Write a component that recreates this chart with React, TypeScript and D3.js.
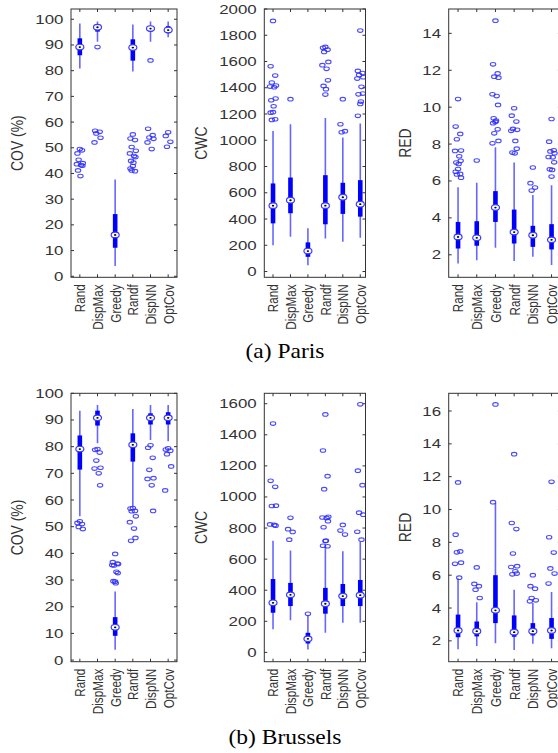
import React from "react";
import * as d3 from "d3";

// box order: [whisker low, q1, median, q3, whisker high]
const methods = ["Rand", "DispMax", "Greedy", "Randf", "DispNN", "OptCov"];

const parisCov = [
  [80.8, 86, 89.2, 92.6, 98.4],
  [91.3, 95.2, 96.9, 97.4, 99.1],
  [4.0, 11.1, 16.1, 24.2, 37.7],
  [79.7, 83.9, 89.0, 92.2, 98.0],
  [91.3, 95.3, 96.4, 97.2, 99.1],
  [93.0, 94.6, 95.8, 97.3, 99.1],
];
const parisCovOut = [
  [49.5, 47.8, 49.0, 45.3, 44.0, 43.6, 43.3, 43.0, 41.2, 39.0],
  [89.2, 56.6, 56.2, 55.6, 53.9, 52.1],
  [],
  [55.2, 53.6, 53.0, 50.3, 48.8, 47.8, 46.8, 46.4, 44.9, 44.2, 42.9, 41.9, 40.9, 41.2],
  [84.0, 57.4, 54.9, 54.0, 53.5, 52.1, 49.5],
  [56.0, 54.6, 52.3, 50.4],
];

const parisCwc = [
  [201, 367, 502, 671, 1071],
  [265, 444, 543, 716, 1122],
  [48, 112, 156, 222, 329],
  [252, 360, 502, 734, 1170],
  [227, 439, 566, 676, 1021],
  [258, 418, 513, 696, 1127],
];
const parisCwcOut = [
  [1909, 1564, 1493, 1440, 1417, 1409, 1404, 1318, 1305, 1259, 1214, 1210, 1160, 1155],
  [1313],
  [],
  [1711, 1704, 1690, 1673, 1597, 1572, 1544, 1457, 1414, 1389, 1348],
  [1313, 1122, 1069, 1061],
  [1836, 1528, 1512, 1498, 1480, 1470, 1407, 1356, 1350, 1295, 1277, 1186],
];

const parisRed = [
  [1.53, 2.34, 2.97, 3.78, 5.66],
  [1.71, 2.49, 2.92, 3.82, 5.91],
  [2.38, 3.78, 4.56, 5.45, 7.83],
  [1.66, 2.61, 3.23, 4.45, 7.0],
  [1.89, 2.43, 3.06, 3.57, 5.24],
  [1.44, 2.29, 2.81, 3.66, 5.77],
];
const parisRedOut = [
  [10.44, 8.95, 8.55, 8.26, 7.65, 7.63, 7.34, 7.09, 7.0, 6.92, 6.65, 6.5, 6.38, 6.35, 6.18],
  [7.11],
  [14.69, 12.32, 11.83, 11.65, 11.6, 10.7, 10.6, 10.12, 9.4, 9.27, 9.2, 9.13, 8.8, 8.58, 8.17, 8.04],
  [9.94, 9.54, 9.22, 8.82, 8.77, 8.72, 8.17, 7.75, 7.54, 7.5],
  [6.73, 5.88, 5.64, 5.48],
  [9.36, 8.13, 7.66, 7.6, 7.5, 7.3, 7.28, 7.01, 6.63, 6.6, 6.24],
];

const brusselsCov = [
  [53.9, 71.4, 79.1, 84.2, 93.5],
  [81.3, 87.9, 90.8, 93.5, 95.6],
  [3.9, 9.1, 12.3, 16.1, 25.7],
  [57.4, 74.4, 80.7, 85.0, 94.1],
  [82.5, 88.3, 90.8, 92.5, 95.6],
  [82.0, 88.3, 90.8, 92.9, 95.6],
];
const brusselsCovOut = [
  [52.0, 51.4, 51.0, 49.9, 49.1],
  [79.1, 78.8, 77.8, 74.8, 72.1, 71.8, 70.0, 65.5],
  [39.8, 36.7, 36.2, 35.5, 36.0, 35.6, 33.1, 32.6, 29.6, 28.8, 29.4],
  [57.0, 56.8, 55.9, 55.8, 53.9, 51.7, 49.3, 45.8, 44.7],
  [80.5, 79.6, 75.8, 71.3, 68.2, 67.9, 65.5, 55.9],
  [79.4, 78.9, 78.5, 77.2, 72.6, 63.6],
];

const brusselsCwc = [
  [149, 255, 319, 472, 719],
  [206, 298, 370, 447, 656],
  [19, 57, 87, 126, 236],
  [126, 249, 313, 415, 682],
  [191, 298, 362, 440, 650],
  [191, 298, 368, 466, 710],
];
const brusselsCwcOut = [
  [1472, 1104, 1065, 942, 944, 823, 820, 815],
  [866, 793, 775, 725],
  [248],
  [1531, 1299, 1134, 1050, 872, 868, 865, 844, 805, 719, 716, 686, 683],
  [820, 784, 758],
  [1596, 1169, 1076, 899, 886, 776, 725],
];

const brusselsRed = [
  [1.49, 2.22, 2.63, 3.6, 5.8],
  [1.69, 2.27, 2.59, 3.18, 4.35],
  [1.86, 3.08, 3.86, 6.0, 10.4],
  [1.45, 2.25, 2.53, 3.55, 5.12],
  [1.82, 2.33, 2.59, 3.08, 4.31],
  [1.55, 2.12, 2.63, 3.39, 4.98],
];
const brusselsRedOut = [
  [11.65, 8.47, 7.45, 7.39, 6.76, 6.69, 5.85],
  [6.47, 5.47, 5.33, 5.12, 4.61],
  [16.4, 10.45],
  [13.37, 9.18, 8.81, 7.32, 6.55, 6.5, 6.24, 6.1, 6.05],
  [6.0, 5.33, 5.18, 4.61, 4.47, 4.41],
  [11.69, 8.31, 7.38, 6.41, 6.1, 5.49],
];

const covTicks = d3.range(0, 101, 10);
const parisCwcTicks = d3.range(0, 2001, 200);
const brusselsCwcTicks = d3.range(0, 1601, 200);
const parisRedTicks = d3.range(2, 15, 2);
const brusselsRedTicks = d3.range(2, 17, 2);

// small horizontal jitter pattern for outliers (pixels)
const jitter = [0, -2.4, 2.2, -1.2, 3, -3, 1.2, 2.6, -1.8, 0.6];

const BLUE = "#0000ff";
const AXIS = "#333333";
const FONT = "Liberation Sans, Arial, Helvetica, sans-serif";

type PanelProps = {
  label: string;
  stats: number[][];
  outliers: number[][];
  ticks: number[];
  yDomain: [number, number];
  left: number;
  right: number;
  xMax: number;
  top: number;
  bottom: number;
  titleX: number;
};

function BoxPanel(p: PanelProps) {
  const x = d3.scaleLinear().domain([0.5, p.xMax]).range([p.left, p.right]);
  const y = d3.scaleLinear().domain(p.yDomain).range([p.bottom, p.top]);
  const tk = 3;
  const clipId = "clip-" + p.label.replace(/\W/g, "") + Math.round(p.top);
  return (
    <g>
      <defs>
        <clipPath id={clipId}>
          <rect x={p.left} y={p.top} width={p.right - p.left} height={p.bottom - p.top} />
        </clipPath>
      </defs>
      {/* y ticks, left and right */}
      {p.ticks.map((t) => (
        <g key={"yt" + t}>
          <line x1={p.left} x2={p.left + tk} y1={y(t)} y2={y(t)} stroke={AXIS} strokeWidth={1} />
          <line x1={p.right} x2={p.right - tk} y1={y(t)} y2={y(t)} stroke={AXIS} strokeWidth={1} />
          <text
            transform={`translate(${p.left - 7.6},${y(t)}) scale(1.35,1)`}
            textAnchor="end"
            dy="0.36em"
            fontSize={12.5}
            fontFamily={FONT}
            fill={AXIS}
          >
            {t}
          </text>
        </g>
      ))}
      {/* x ticks, top and bottom */}
      {methods.map((m, i) => (
        <g key={"xt" + m}>
          <line x1={x(i + 1)} x2={x(i + 1)} y1={p.top} y2={p.top + tk} stroke={AXIS} strokeWidth={1} />
          <line x1={x(i + 1)} x2={x(i + 1)} y1={p.bottom} y2={p.bottom - tk} stroke={AXIS} strokeWidth={1} />
          <text
            transform={`translate(${x(i + 1)},${p.bottom + 7}) rotate(-90) scale(0.78,1)`}
            textAnchor="end"
            dy="0.36em"
            fontSize={15}
            fontFamily={FONT}
            fill={AXIS}
          >
            {m}
          </text>
        </g>
      ))}
      <text
        transform={`translate(${p.titleX},${(p.top + p.bottom) / 2}) rotate(-90) scale(0.87,1)`}
        textAnchor="middle"
        dy="0.36em"
        fontSize={16}
        fontFamily={FONT}
        fill={AXIS}
      >
        {p.label}
      </text>
      <g clipPath={`url(#${clipId})`}>
        {p.stats.map((s, i) => {
          const cx = x(i + 1);
          return (
            <g key={"b" + i}>
              <line x1={cx} x2={cx} y1={y(s[0])} y2={y(s[4])} stroke={BLUE} strokeOpacity={0.6} strokeWidth={1.6} />
              <rect x={cx - 2.3} width={4.6} y={y(s[3])} height={y(s[1]) - y(s[3])} fill={BLUE} />
              {p.outliers[i].map((v, j) => (
                <ellipse
                  key={j}
                  cx={cx + jitter[j % jitter.length]}
                  cy={y(v)}
                  rx={2.7}
                  ry={1.8}
                  fill="none"
                  stroke="#2a2aff"
                  strokeOpacity={0.85}
                  strokeWidth={1.1}
                />
              ))}
              <ellipse cx={cx} cy={y(s[2])} rx={4} ry={2.8} fill="#ffffff" stroke="#3a3aff" strokeWidth={1.2} />
              <ellipse cx={cx} cy={y(s[2])} rx={1.2} ry={0.9} fill="#000000" />
            </g>
          );
        })}
      </g>
      <rect
        x={p.left}
        y={p.top}
        width={p.right - p.left}
        height={p.bottom - p.top}
        fill="none"
        stroke={AXIS}
        strokeWidth={1}
      />
    </g>
  );
}

export default function App() {
  const rows = [
    {
      top: 9,
      bottom: 277.3,
      caption: "(a) Paris",
      capY: 358,
      panels: [
        { label: "COV (%)", stats: parisCov, outliers: parisCovOut, ticks: covTicks, yDomain: [-0.4, 104] as [number, number] },
        { label: "CWC", stats: parisCwc, outliers: parisCwcOut, ticks: parisCwcTicks, yDomain: [-44, 2000] as [number, number] },
        { label: "RED", stats: parisRed, outliers: parisRedOut, ticks: parisRedTicks, yDomain: [0.78, 15.32] as [number, number] },
      ],
    },
    {
      top: 393.3,
      bottom: 661.7,
      caption: "(b) Brussels",
      capY: 744,
      panels: [
        { label: "COV (%)", stats: brusselsCov, outliers: brusselsCovOut, ticks: covTicks, yDomain: [-0.6, 100] as [number, number] },
        { label: "CWC", stats: brusselsCwc, outliers: brusselsCwcOut, ticks: brusselsCwcTicks, yDomain: [-60, 1667] as [number, number] },
        { label: "RED", stats: brusselsRed, outliers: brusselsRedOut, ticks: brusselsRedTicks, yDomain: [0.73, 17.08] as [number, number] },
      ],
    },
  ];
  const cols = [
    { left: 71, right: 177, xMax: 6.5, titleX: 17.5 },
    { left: 264.3, right: 365.5, xMax: 6.3, titleX: 201 },
    { left: 448.7, right: 560.9, xMax: 6.5, titleX: 405.5 },
  ];
  return (
    <svg
      width={558}
      height={753}
      style={{ position: "absolute", left: 0, top: 0, background: "#ffffff" }}
    >
      {rows.map((r, ri) => (
        <g key={ri}>
          {r.panels.map((pn, ci) => (
            <BoxPanel key={ci} {...pn} {...cols[ci]} top={r.top} bottom={r.bottom} />
          ))}
          <text
            transform={`translate(285,${r.capY}) scale(1.12,1)`}
            textAnchor="middle"
            fontSize={21}
            fontFamily="Liberation Serif, Times New Roman, serif"
            fill="#000000"
          >
            {r.caption}
          </text>
        </g>
      ))}
    </svg>
  );
}
